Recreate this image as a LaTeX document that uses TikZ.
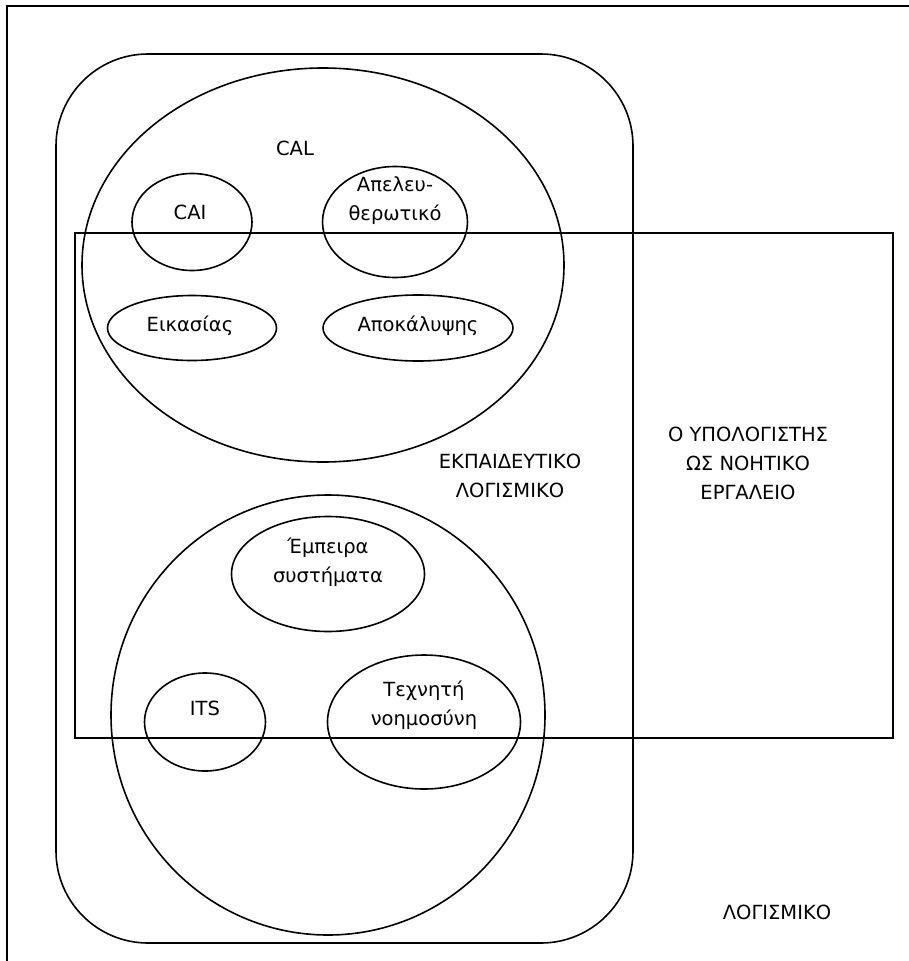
\documentclass[tikz,border=0pt]{standalone}
\usepackage{fontspec}
\setmainfont{DejaVu Sans}
\usetikzlibrary{shapes.geometric}
\tikzset{
  line/.style={draw=black, line width=1.6pt},
  oval/.style={line, ellipse, inner sep=0pt},
  lbl/.style={font=\fontsize{19.5}{29}\selectfont, align=center, inner sep=0pt, text=black},
}
\begin{document}
\begin{tikzpicture}[x=1pt, y=-1pt]
\useasboundingbox (0,0) rectangle (909,961);
\clip (0,0) rectangle (909,961);
\fill[white] (0,0) rectangle (909,961);
% outer software frame, running past the page on the right and bottom
\draw[line] (7,985) |- (930,6);
% educational software (rounded box)
\draw[line, rounded corners=92pt] (56,54) rectangle (633,943);
% the computer as a cognitive tool
\draw[line] (75,233) rectangle (893,738);
% CAL group
\node[oval, minimum width=482pt, minimum height=394pt] (cal) at (323,265) {};
\node[oval, minimum width=120pt, minimum height=97pt] (cai) at (192,222) {};
\node[oval, minimum width=145pt, minimum height=111pt] (apel) at (395,222) {};
\node[oval, minimum width=169pt, minimum height=65pt] (eik) at (192,328) {};
\node[oval, minimum width=190pt, minimum height=66pt] (apok) at (418,328) {};
% ITS group
\node[oval, minimum width=434pt, minimum height=440pt] (its) at (328,715) {};
\node[oval, minimum width=193pt, minimum height=115pt] (emp) at (328,574) {};
\node[oval, minimum width=121pt, minimum height=98pt] (itss) at (205,722) {};
\node[oval, minimum width=193pt, minimum height=134pt] (techn) at (424,722) {};
% labels
\node[lbl] (tcal) at (295,148) {CAL};
\node[lbl] (tcai) at (190,212) {CAI};
\node[lbl] (tapel) at (395,201) {Απελευ-\\θερωτικό};
\node[lbl] (teik) at (190,326) {Εικασίας};
\node[lbl] (tapok) at (418,326) {Αποκάλυψης};
\node[lbl] (tekp) at (510,476) {ΕΚΠΑΙΔΕΥΤΙΚΟ\\ΛΟΓΙΣΜΙΚΟ};
\node[lbl] (tcomp) at (748,463) {Ο ΥΠΟΛΟΓΙΣΤΗΣ\\ΩΣ ΝΟΗΤΙΚΟ\\ΕΡΓΑΛΕΙΟ};
\node[lbl] (temp) at (328,562) {Έμπειρα\\συστήματα};
\node[lbl] (tits) at (205,708) {ITS};
\node[lbl] (ttech) at (424,705) {Τεχνητή\\νοημοσύνη};
\node[lbl] (tlog) at (777,912) {ΛΟΓΙΣΜΙΚΟ};
\end{tikzpicture}
\end{document}
